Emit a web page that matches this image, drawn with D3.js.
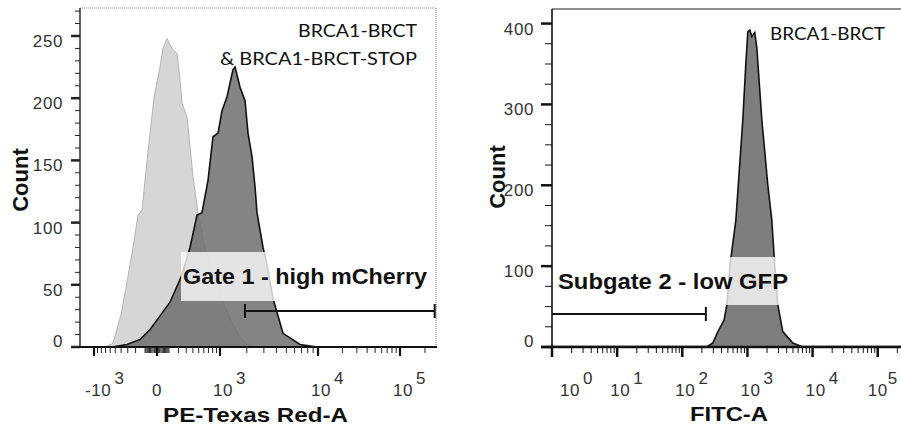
<!DOCTYPE html>
<html>
<head>
<meta charset="utf-8">
<script src="https://cdn.jsdelivr.net/npm/d3@7"></script>
<style>
  body { margin: 0; background: #fff; }
  svg { display: block; }
  text { font-family: "Liberation Sans", Arial, sans-serif; }
  .tick-label { letter-spacing: 0.6px; }
</style>
</head>
<body>
<svg id="chart" width="901" height="430"></svg>
<script>
// ---- data ----
// left panel: PE-Texas Red-A, two overlaid histograms
const controlX     = [-713, -544, -402, -311, -231, -172, -130, -82, -55, -23, -7, 23, 47, 82, 110, 140, 184, 219, 244, 311, 402, 487, 624, 861, 1147, 1416, 1690, 2010, 2436];
const controlCount = [0, 3, 26, 52, 80, 106, 110, 149, 172, 200, 209, 225, 240, 248, 243, 239, 236, 215, 196, 185, 137, 108, 80, 55, 32, 18, 8, 2, 0];

const sampleX     = [-563, -311, -151, -55, 23, 110, 244, 355, 470, 563, 690, 809, 943, 1057, 1209, 1309, 1416, 1491, 1690, 1914, 2060, 2267, 2436, 2554, 2942, 3225, 3702, 4640, 6765, 9788];
const sampleCount = [0, 2, 6, 14, 25, 36, 58, 80, 106, 108, 134, 169, 172, 190, 201, 212, 223, 225, 209, 198, 172, 153, 129, 108, 80, 66, 39, 11, 2, 0];

// right panel: FITC-A
const gfpX     = [238, 294, 352, 437, 483, 537, 664, 849, 944, 1014, 1089, 1167, 1297, 1393, 1663, 2056, 2366, 2630, 2924, 3491, 4966, 7079];
const gfpCount = [0, 5, 19, 33, 52, 100, 157, 281, 350, 390, 392, 384, 389, 370, 281, 200, 157, 100, 52, 19, 5, 0];

// gates
const gate1 = [1914, 262144];   // high mCherry
const gate2 = [1, 230];         // low GFP

// ticks
const leftYTicks  = [0, 50, 100, 150, 200, 250];
const rightYTicks = [0, 100, 200, 300, 400];
const leftXTicks  = [-1000, 0, 1000, 10000, 100000];
const leftXLabels = [["-10", "3"], ["0", ""], ["10", "3"], ["10", "4"], ["10", "5"]];
const rightXTicks = [1, 10, 100, 1000, 10000, 100000];
const rightXLabels = [["10", "0"], ["10", "1"], ["10", "2"], ["10", "3"], ["10", "4"], ["10", "5"]];

const svg = d3.select("#chart");

// ---- scales ----
// biexponential-like display: symlog transform, piecewise placed
const biex = v => Math.sign(v) * Math.log1p(Math.abs(v) / 330);
const xLeftT = d3.scaleLinear()
    .domain([-1000, 0, 1000, 10000, 100000].map(biex))
    .range([94, 157, 220, 318, 400]);
const xLeft = v => xLeftT(biex(v));
const yLeft = d3.scaleLinear().domain([0, 272.5]).range([347, 8]);

const xRight = d3.scaleLog().domain([1, 262144]).range([552, 905]);
const yRight = d3.scaleLinear().domain([0, 418]).range([347, 9]);

// stretch text horizontally like the (slightly widened) reference
function stretch(sel, w) {
    sel.attr("textLength", w).attr("lengthAdjust", "spacingAndGlyphs");
}

// ---- left panel ----
const L = svg.append("g");

// frame (dotted grey top / right)
L.append("line").attr("x1", 80).attr("x2", 436).attr("y1", 8).attr("y2", 8)
    .attr("stroke", "#888").attr("stroke-dasharray", "1,1").attr("stroke-width", 1.2);
L.append("line").attr("x1", 436).attr("x2", 436).attr("y1", 8).attr("y2", 347)
    .attr("stroke", "#888").attr("stroke-dasharray", "1,1").attr("stroke-width", 1.2);

const areaL = (xs) => d3.area()
    .x((d, i) => xLeft(xs[i]))
    .y0(yLeft(0))
    .y1(d => yLeft(d));

L.append("path").datum(controlCount)
    .attr("d", areaL(controlX))
    .attr("fill", "#d6d6d6")
    .attr("stroke", "#b4b4b4").attr("stroke-width", 1);

L.append("path").datum(sampleCount)
    .attr("d", areaL(sampleX))
    .attr("fill", "#6e6e6e").attr("fill-opacity", 0.85)
    .attr("stroke", "#111").attr("stroke-width", 1.6);

// gate label box + text
L.append("rect").attr("x", 181).attr("y", 252).attr("width", 252).attr("height", 49)
    .attr("fill", "#fff").attr("opacity", 0.78);
L.append("text").attr("x", 183).attr("y", 284)
    .attr("font-size", 22).attr("font-weight", "bold").attr("fill", "#111")
    .text("Gate 1 - high mCherry").call(stretch, 244);

// gate bar
const g1y = 311;
L.append("line").attr("x1", xLeft(gate1[0])).attr("x2", xLeft(gate1[1]))
    .attr("y1", g1y).attr("y2", g1y).attr("stroke", "#111").attr("stroke-width", 2);
gate1.forEach(v => {
    L.append("line").attr("x1", xLeft(v)).attr("x2", xLeft(v))
        .attr("y1", g1y - 7).attr("y2", g1y + 7).attr("stroke", "#111").attr("stroke-width", 2);
});

// y axis
L.append("line").attr("x1", 80).attr("x2", 80).attr("y1", 8).attr("y2", 348)
    .attr("stroke", "#222").attr("stroke-width", 1.4);
d3.range(0, 271, 10).forEach(v => {
    const major = v % 50 === 0;
    L.append("line").attr("x1", major ? 71 : 75).attr("x2", 80)
        .attr("y1", yLeft(v)).attr("y2", yLeft(v))
        .attr("stroke", "#222").attr("stroke-width", major ? 2.5 : 1);
});
leftYTicks.forEach(v => {
    L.append("text").attr("class", "tick-label")
        .attr("x", 63).attr("y", yLeft(v) + (v === 0 ? -6 : 5))
        .attr("dy", "0.35em").attr("text-anchor", "end")
        .attr("font-size", 17).attr("fill", "#333").text(v);
});

// x axis
L.append("line").attr("x1", 79).attr("x2", 437).attr("y1", 347).attr("y2", 347)
    .attr("stroke", "#111").attr("stroke-width", 2);
const minorVals = [];
d3.range(1, 10).forEach(k => { minorVals.push(k * 10, k * 100, -k * 10, -k * 100); });
d3.range(2, 10).forEach(k => { minorVals.push(k * 1000, k * 10000); });
minorVals.push(200000);
minorVals.forEach(v => {
    L.append("line").attr("x1", xLeft(v)).attr("x2", xLeft(v))
        .attr("y1", 347).attr("y2", 353).attr("stroke", "#222").attr("stroke-width", 1);
});
leftXTicks.forEach((v, i) => {
    L.append("line").attr("x1", xLeft(v)).attr("x2", xLeft(v))
        .attr("y1", 347).attr("y2", 356).attr("stroke", "#111").attr("stroke-width", 2.2);
    const [base, exp] = leftXLabels[i];
    const t = L.append("text").attr("class", "tick-label")
        .attr("y", 396).attr("font-size", 17).attr("fill", "#333");
    if (exp === "") {
        t.attr("x", xLeft(v)).attr("text-anchor", "middle").text(base);
    } else {
        t.attr("x", xLeft(v) + (base === "-10" ? -9 : -7));
        t.append("tspan").text(base);
        t.append("tspan").attr("dx", 3).attr("dy", -12).text(exp);
    }
});

// titles
L.append("text").attr("x", 163).attr("y", 422)
    .attr("font-size", 21).attr("font-weight", "bold").attr("fill", "#111")
    .text("PE-Texas Red-A").call(stretch, 185);
L.append("text").attr("transform", "translate(28,180) rotate(-90)")
    .attr("text-anchor", "middle")
    .attr("font-size", 22).attr("font-weight", "bold").attr("fill", "#111")
    .text("Count");

L.append("text").attr("x", 298).attr("y", 37)
    .style("font-family", "Lato, 'Open Sans', sans-serif")
    .attr("font-size", 17).attr("fill", "#111")
    .text("BRCA1-BRCT").call(stretch, 119);
L.append("text").attr("x", 220).attr("y", 65)
    .style("font-family", "Lato, 'Open Sans', sans-serif")
    .attr("font-size", 17).attr("fill", "#111")
    .text("& BRCA1-BRCT-STOP").call(stretch, 197);

// ---- right panel ----
const R = svg.append("g");

R.append("line").attr("x1", 552).attr("x2", 901).attr("y1", 9).attr("y2", 9)
    .attr("stroke", "#222").attr("stroke-width", 1.2);

// faint zero line of the histogram
R.append("line").attr("x1", 552).attr("x2", 901).attr("y1", 345.5).attr("y2", 345.5)
    .attr("stroke", "#ccc").attr("stroke-width", 1);

R.append("path").datum(gfpCount)
    .attr("d", d3.area()
        .x((d, i) => xRight(gfpX[i]))
        .y0(yRight(0))
        .y1(d => yRight(d)))
    .attr("fill", "#7e7e7e")
    .attr("stroke", "#111").attr("stroke-width", 1.6);

R.append("rect").attr("x", 555).attr("y", 257).attr("width", 238).attr("height", 48)
    .attr("fill", "#fff").attr("opacity", 0.78);
R.append("text").attr("x", 558).attr("y", 289)
    .attr("font-size", 22).attr("font-weight", "bold").attr("fill", "#111")
    .text("Subgate 2 - low GFP").call(stretch, 230);

const g2y = 314;
R.append("line").attr("x1", xRight(gate2[0])).attr("x2", xRight(gate2[1]))
    .attr("y1", g2y).attr("y2", g2y).attr("stroke", "#111").attr("stroke-width", 2);
R.append("line").attr("x1", xRight(gate2[1])).attr("x2", xRight(gate2[1]))
    .attr("y1", g2y - 7).attr("y2", g2y + 7).attr("stroke", "#111").attr("stroke-width", 2);

// y axis
R.append("line").attr("x1", 552).attr("x2", 552).attr("y1", 9).attr("y2", 348)
    .attr("stroke", "#111").attr("stroke-width", 1.6);
d3.range(0, 401, 25).forEach(v => {
    const major = v % 100 === 0;
    R.append("line").attr("x1", major ? 541 : 545).attr("x2", 552)
        .attr("y1", yRight(v)).attr("y2", yRight(v))
        .attr("stroke", "#111").attr("stroke-width", major ? 2.5 : 1);
});
rightYTicks.forEach(v => {
    R.append("text").attr("class", "tick-label")
        .attr("x", 534).attr("y", yRight(v) + (v === 0 ? -6 : 5))
        .attr("dy", "0.35em").attr("text-anchor", "end")
        .attr("font-size", 17).attr("fill", "#333").text(v);
});

// x axis
R.append("line").attr("x1", 541).attr("x2", 901).attr("y1", 347).attr("y2", 347)
    .attr("stroke", "#111").attr("stroke-width", 2.5);
xRight.ticks().filter(v => v <= 262144).forEach(v => {
    R.append("line").attr("x1", xRight(v)).attr("x2", xRight(v))
        .attr("y1", 347).attr("y2", 353).attr("stroke", "#111").attr("stroke-width", 1);
});
rightXTicks.forEach((v, i) => {
    R.append("line").attr("x1", xRight(v)).attr("x2", xRight(v))
        .attr("y1", 347).attr("y2", 357).attr("stroke", "#111").attr("stroke-width", 2.5);
    const [base, exp] = rightXLabels[i];
    const last = i === rightXTicks.length - 1;
    const t = R.append("text").attr("class", "tick-label")
        .attr("x", xRight(v) + (i === 0 ? 8 : last ? -10 : -7)).attr("y", 396)
        .attr("font-size", 17).attr("fill", "#333");
    t.append("tspan").text(base);
    t.append("tspan").attr("dx", last ? 0 : 3).attr("dy", -12).text(exp);
});

R.append("text").attr("x", 690).attr("y", 421)
    .attr("font-size", 21).attr("font-weight", "bold").attr("fill", "#111")
    .text("FITC-A").call(stretch, 78);
R.append("text").attr("transform", "translate(505,177) rotate(-90)")
    .attr("text-anchor", "middle")
    .attr("font-size", 22).attr("font-weight", "bold").attr("fill", "#111")
    .text("Count");

R.append("text").attr("x", 770).attr("y", 40)
    .style("font-family", "Lato, 'Open Sans', sans-serif")
    .attr("font-size", 17).attr("fill", "#111")
    .text("BRCA1-BRCT").call(stretch, 115);
</script>
</body>
</html>
